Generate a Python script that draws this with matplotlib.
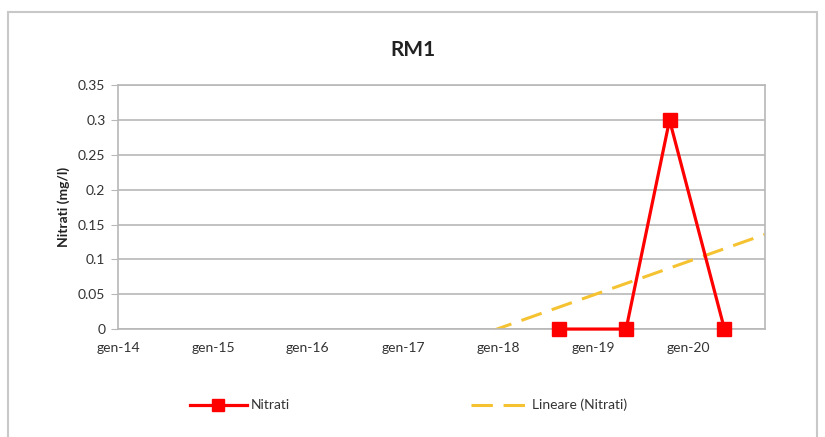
import datetime as dt
import numpy as np
import matplotlib
matplotlib.use("Agg")
import matplotlib.pyplot as plt
import matplotlib.dates as mdates
from matplotlib.patches import Rectangle

# sampling dates and nitrate values (mg/l)
dates = [dt.date(2018, 8, 25), dt.date(2019, 5, 8), dt.date(2019, 10, 22), dt.date(2020, 5, 20)]
nitrati = [0.0, 0.0, 0.3, 0.0]

tick_dates = [dt.date(y, 1, 1) for y in range(2014, 2021)]
tick_labels = ["gen-14", "gen-15", "gen-16", "gen-17", "gen-18", "gen-19", "gen-20"]
y_ticks = [0, 0.05, 0.1, 0.15, 0.2, 0.25, 0.3, 0.35]
y_labels = ["0", "0.05", "0.1", "0.15", "0.2", "0.25", "0.3", "0.35"]

plt.rcParams["font.family"] = ["Lato", "DejaVu Sans"]

fig = plt.figure(figsize=(8.25, 4.37), dpi=100)
ax = fig.add_axes([0.143, 0.247, 0.784, 0.558])

x = mdates.date2num(dates)
x_min = mdates.date2num(dt.date(2014, 1, 1))
x_max = mdates.date2num(dt.date(2020, 10, 22))

ax.plot(x, nitrati, color="#ff0000", lw=2.3, marker="s", markersize=10,
        label="Nitrati", zorder=3, clip_on=False)

# linear trend line (Excel style), across the full axis
slope, intercept = np.polyfit(x, nitrati, 1)
xt = np.array([x_min, x_max])
ax.plot(xt, slope * xt + intercept, color="#f5c332", lw=2.2,
        dashes=(7, 3.5), label="Lineare (Nitrati)", zorder=2)

ax.set_xlim(x_min, x_max)
ax.set_ylim(0, 0.35)
ax.set_xticks(mdates.date2num(tick_dates))
ax.set_xticklabels(tick_labels)
ax.set_yticks(y_ticks)
ax.set_yticklabels(y_labels)
ax.tick_params(labelsize=10, length=5, width=0.8, color="#b8b8b8", pad=4)
ax.tick_params(axis="x", length=0, pad=9)
for t in ax.get_xticklabels() + ax.get_yticklabels():
    t.set_color("#333333")

ax.grid(axis="y", color="#b8b8b8", lw=1.2)
ax.set_axisbelow(True)
for s in ax.spines.values():
    s.set_color("#b8b8b8")
    s.set_linewidth(1.2)

ax.set_ylabel("Nitrati (mg/l)", fontsize=10, fontweight="bold", labelpad=6, color="#222222")
fig.text(0.5, 0.885, "RM1", ha="center", va="center", fontsize=15, fontweight="bold",
         color="#222222")

fig.legend(loc="center", bbox_to_anchor=(0.495, 0.073), ncol=2, frameon=False,
           fontsize=10, columnspacing=13, handlelength=4.1, handletextpad=0.3,
           markerscale=0.85, labelcolor="#333333")

fig.patches.append(Rectangle((0.01, -0.02), 0.98, 0.992, transform=fig.transFigure,
                             fill=False, edgecolor="#c8c8c8", lw=1.5))

fig.savefig("out.png", dpi=100)
